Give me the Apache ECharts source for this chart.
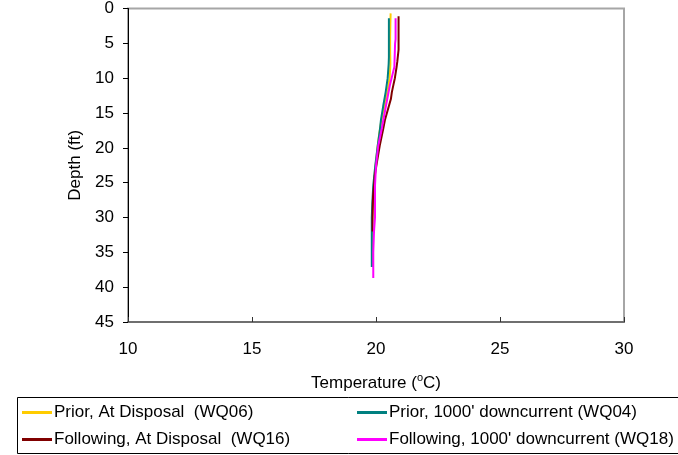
<!DOCTYPE html>
<html>
<head>
<meta charset="utf-8">
<script src="https://cdn.jsdelivr.net/npm/echarts@6/dist/echarts.min.js"></script>
<style>
html,body{margin:0;padding:0;background:#fff;}
#c{width:678px;height:455px;}
</style>
</head>
<body>
<div id="c"></div>
<script>
// Series names
const names = [
  "Prior, At Disposal  (WQ06)",
  "Prior, 1000' downcurrent (WQ04)",
  "Following, At Disposal  (WQ16)",
  "Following, 1000' downcurrent (WQ18)"
];
const colors = ["#FFCC00", "#008080", "#800000", "#FF00FF"];

// WQ06 (Prior, At Disposal)
const depthWQ06 = [0.7, 2, 4, 6, 8, 10, 12, 14, 16, 18, 20, 22, 24, 26, 28, 30, 32, 34, 36, 37];
const tempWQ06  = [20.59, 20.58, 20.57, 20.57, 20.58, 20.55, 20.46, 20.34, 20.22, 20.13, 20.06, 20.0, 19.94, 19.9, 19.87, 19.85, 19.84, 19.84, 19.84, 19.84];

// WQ04 (Prior, 1000' downcurrent)
const depthWQ04 = [1.4, 3, 5, 7, 8, 10, 12, 14, 16, 17.3, 19.7, 22.6, 25.4, 28, 30, 33, 35, 37.1];
const tempWQ04  = [20.52, 20.52, 20.52, 20.52, 20.51, 20.47, 20.39, 20.29, 20.2, 20.16, 20.07, 19.97, 19.89, 19.85, 19.83, 19.83, 19.83, 19.83];

// WQ16 (Following, At Disposal)
const depthWQ16 = [1.1, 3, 5.9, 7.6, 8.4, 10, 11, 12, 13, 14, 15, 16, 17.3, 19.7, 22, 24, 25.4, 27, 30, 32];
const tempWQ16  = [20.91, 20.91, 20.91, 20.86, 20.83, 20.76, 20.70, 20.64, 20.60, 20.52, 20.44, 20.36, 20.29, 20.15, 20.04, 19.95, 19.92, 19.88, 19.86, 19.86];

// WQ18 (Following, 1000' downcurrent)
const depthWQ18 = [1.4, 4.4, 5, 8.4, 11, 14, 17.3, 19.7, 22.6, 25.4, 30, 32, 35, 38.7];
const tempWQ18  = [20.79, 20.79, 20.77, 20.74, 20.56, 20.40, 20.23, 20.09, 20.0, 19.96, 19.96, 19.92, 19.89, 19.89];

const xTicks = [10, 15, 20, 25, 30];
const yTicks = [0, 5, 10, 15, 20, 25, 30, 35, 40, 45];

const depths = [depthWQ06, depthWQ04, depthWQ16, depthWQ18];
const temps = [tempWQ06, tempWQ04, tempWQ16, tempWQ18];

const FONT = "'Liberation Sans', Arial, sans-serif";
const FS = 17;

const series = names.map((n, i) => ({
  name: n,
  type: 'line',
  data: temps[i].map((t, k) => [t, depths[i][k]]),
  showSymbol: false,
  symbol: 'none',
  lineStyle: { color: colors[i], width: 2 },
  itemStyle: { color: colors[i] },
  z: 2 + i,
  animation: false
}));

const legendPos = [
  { left: 22, top: 404 },
  { left: 357, top: 404 },
  { left: 22, top: 431 },
  { left: 357, top: 431 }
];
const legends = names.map((n, i) => ({
  data: [n],
  left: legendPos[i].left,
  top: legendPos[i].top,
  padding: 0,
  icon: 'rect',
  itemWidth: 30,
  itemHeight: 3,
  itemGap: 0,
  selectedMode: false,
  textStyle: { fontFamily: FONT, fontSize: FS, color: '#000', padding: [0, 0, 0, -3] }
}));

const chart = echarts.init(document.getElementById('c'), null, { renderer: 'canvas' });
chart.setOption({
  animation: false,
  backgroundColor: '#fff',
  grid: {
    left: 128, right: 54, top: 7, bottom: 133,
    show: true, borderColor: '#a6a6a6', borderWidth: 2, backgroundColor: 'transparent'
  },
  xAxis: {
    type: 'value', min: xTicks[0], max: xTicks[xTicks.length - 1], interval: 5,
    position: 'bottom',
    axisLine: { show: true, onZero: false, lineStyle: { color: '#6f6f6f', width: 2 } },
    axisTick: { show: true, inside: true, length: 5, lineStyle: { color: '#333', width: 1 } },
    splitLine: { show: false },
    axisLabel: { fontFamily: FONT, fontSize: FS, color: '#000', margin: 19 },
    name: '{a|Temperature (}{s|o}{a|C)}',
    nameLocation: 'middle',
    nameGap: 50,
    nameTextStyle: {
      rich: {
        a: { fontFamily: FONT, fontSize: FS, color: '#000' },
        s: { fontFamily: FONT, fontSize: 11, color: '#000', padding: [0, 0, 11, 0] }
      }
    }
  },
  yAxis: {
    type: 'value', inverse: true, min: yTicks[0], max: yTicks[yTicks.length - 1], interval: 5,
    axisLine: { show: true, onZero: false, lineStyle: { color: '#000', width: 1 } },
    axisTick: { show: true, inside: false, length: 5, lineStyle: { color: '#000', width: 1 } },
    splitLine: { show: false },
    axisLabel: { fontFamily: FONT, fontSize: FS, color: '#000', margin: 14 },
    name: 'Depth (ft)',
    nameLocation: 'middle',
    nameRotate: 90,
    nameGap: 43,
    nameTextStyle: { fontFamily: FONT, fontSize: FS, color: '#000' }
  },
  legend: legends,
  graphic: [{
    type: 'rect',
    shape: { x: 17.5, y: 397.5, width: 680, height: 56 },
    style: { fill: 'none', stroke: '#000', lineWidth: 1 },
    z: 0
  }],
  series: series
});
</script>
</body>
</html>
